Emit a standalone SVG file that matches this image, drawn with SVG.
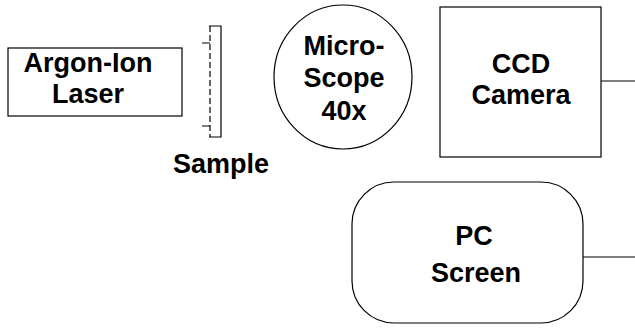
<svg xmlns="http://www.w3.org/2000/svg" width="635" height="333" viewBox="0 0 635 333">
<style>
.s{fill:none;stroke:#000;stroke-width:1.2}
.t{font-family:"Liberation Sans",Arial,Helvetica,sans-serif;font-size:27px;font-weight:bold;fill:#000;text-anchor:middle}
</style>
<rect width="635" height="333" fill="#fff"/>
<g id="laser">
<rect class="s" x="8" y="48" width="174" height="68"/>
<text class="t" x="88" y="72">Argon-Ion</text>
<text class="t" x="88" y="103">Laser</text>
</g>
<g id="sample">
<path class="s" d="M209,26 H221 V137 H209"/>
<path class="s" d="M210,26 V137" stroke-dasharray="6,3"/>
<path class="s" d="M202,43 H210 M202,126 H210"/>
<text class="t" x="221" y="173">Sample</text>
</g>
<g id="microscope">
<ellipse class="s" cx="343" cy="77" rx="69" ry="72"/>
<text class="t" x="344" y="55">Micro-</text>
<text class="t" x="344" y="87">Scope</text>
<text class="t" x="344" y="120">40x</text>
</g>
<g id="camera">
<rect class="s" x="440" y="7" width="161" height="150"/>
<text class="t" x="521" y="73">CCD</text>
<text class="t" x="521" y="104">Camera</text>
</g>
<g id="pc">
<rect class="s" x="352" y="182" width="231" height="141" rx="42" ry="42"/>
<text class="t" x="474" y="245">PC</text>
<text class="t" x="476" y="282">Screen</text>
</g>
<g id="connectors">
<path class="s" d="M601,81 H635"/>
<path class="s" d="M583,257 H635"/>
</g>
</svg>
